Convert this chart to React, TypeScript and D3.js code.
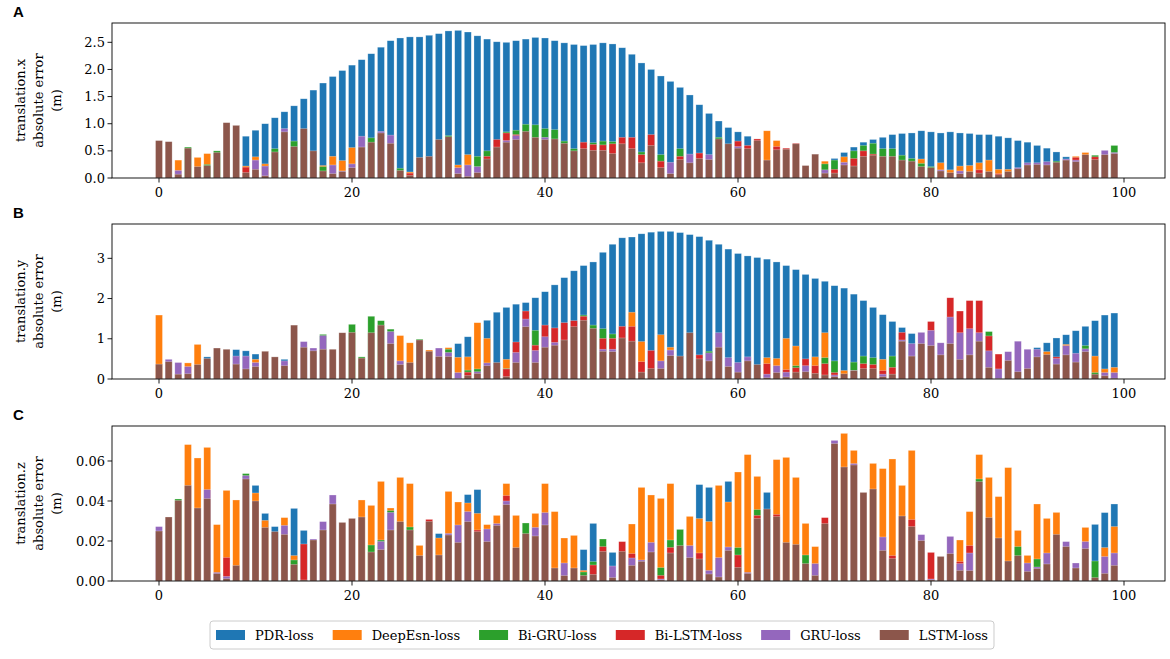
import React from 'react';
import * as d3 from 'd3';

// null = bar fully hidden behind the bars drawn after it
const _ = null;
type V = number | null;

const seriesNames = ['PDR-loss', 'DeepEsn-loss', 'Bi-GRU-loss', 'Bi-LSTM-loss', 'GRU-loss', 'LSTM-loss'];
const seriesColors = ['#1f77b4', '#ff7f0e', '#2ca02c', '#d62728', '#9467bd', '#8c564b'];
const xTicks = [0, 20, 40, 60, 80, 100];
const yTicksA = [0, 0.5, 1, 1.5, 2, 2.5];
const yTicksB = [0, 1, 2, 3];
const yTicksC = [0, 0.02, 0.04, 0.06];

// ---- translation.x ----
const pdrA: V[] = [
  _, _, _, _, _, _, _, _, _, 0.77,
  0.88, 1.0, 1.11, 1.22, 1.33, 1.46, 1.62, 1.75, 1.87, 1.98,
  2.08, 2.18, 2.29, 2.41, 2.53, 2.58, 2.6, 2.6, 2.63, 2.66,
  2.71, 2.72, 2.69, 2.62, 2.56, 2.51, 2.5, 2.53, 2.56, 2.59,
  2.58, 2.53, 2.49, 2.46, 2.44, 2.46, 2.49, 2.47, 2.4, 2.28,
  2.12, 2.0, 1.88, 1.78, 1.67, 1.53, 1.35, 1.19, 1.05, 0.93,
  0.85, 0.77, _, _, _, _, _, _, _, _,
  0.36, 0.47, 0.57, 0.66, 0.71, 0.75, 0.8, 0.82, 0.83, 0.87,
  0.85, 0.83, 0.85, 0.83, 0.82, 0.8, 0.8, 0.77, 0.74, 0.69,
  0.66, 0.6, 0.55, 0.48, 0.39, _, _, _, _, _,
];
const deepA: V[] = [
  _, _, 0.33, _, 0.38, 0.45, _, _, _, 0.22,
  0.39, 0.26, _, _, _, _, _, 0.23, 0.4, 0.32,
  0.56, _, _, _, _, _, 0.11, _, _, _,
  _, 0.24, 0.43, _, _, _, _, _, _, _,
  _, _, _, _, _, _, _, _, _, _,
  _, _, _, _, _, _, _, _, _, _,
  _, _, _, 0.87, 0.69, _, _, _, _, 0.31,
  _, 0.39, _, _, _, _, _, _, _, 0.35,
  _, 0.28, 0.15, 0.22, 0.23, 0.28, 0.33, 0.16, 0.16, _,
  _, _, _, _, _, 0.4, 0.47, _, _, _,
];
const bigruA: V[] = [
  _, _, _, 0.57, _, 0.25, 0.5, _, _, _,
  _, _, 0.54, _, 0.68, _, _, 0.21, _, _,
  _, _, 0.74, _, _, 0.18, _, _, _, _,
  0.78, _, _, 0.4, 0.5, _, 0.85, 0.88, 0.99, 0.98,
  0.91, 0.89, 0.68, 0.54, _, 0.65, 0.68, 0.67, _, _,
  0.48, _, 0.43, _, 0.54, _, _, _, 0.75, _,
  _, _, _, _, _, _, _, _, _, 0.26,
  0.33, _, 0.5, 0.6, 0.64, 0.54, 0.54, 0.42, 0.36, 0.27,
  0.21, _, _, _, _, _, _, _, _, _,
  _, _, _, 0.31, _, _, _, 0.42, _, 0.6,
];
const bilstmA: V[] = [
  _, _, _, _, _, _, _, _, _, 0.2,
  _, _, _, _, _, _, _, _, _, _,
  _, _, _, _, _, _, 0.09, _, _, _,
  _, _, _, _, 0.4, 0.71, 0.83, 0.8, _, _,
  _, _, _, _, 0.66, 0.62, 0.61, 0.63, 0.75, 0.75,
  0.43, 0.8, 0.31, _, 0.4, _, 0.46, _, _, _,
  0.68, 0.6, 0.72, _, 0.58, 0.55, 0.64, _, _, _,
  0.16, _, 0.36, 0.5, 0.44, _, _, _, _, _,
  _, _, _, _, _, 0.15, _, 0.08, _, _,
  _, _, _, _, _, 0.38, _, 0.39, _, _,
];
const gruA: V[] = [
  _, _, 0.14, _, _, _, _, _, _, _,
  0.33, 0.22, _, 0.91, _, _, _, _, 0.24, 0.13,
  0.26, 0.77, _, 0.86, 0.79, _, _, _, _, _,
  _, 0.19, 0.24, 0.21, _, _, 0.69, 0.78, _, _,
  0.75, _, _, _, _, _, _, _, _, _,
  _, _, _, 0.29, _, 0.44, _, 0.43, _, _,
  0.58, _, _, _, _, _, _, _, _, 0.15,
  _, 0.29, _, _, _, _, _, _, _, _,
  _, 0.15, _, 0.13, _, _, _, _, _, 0.19,
  0.28, 0.28, 0.3, _, 0.35, 0.33, _, _, 0.51, 0.47,
];
const lstmA: V[] = [
  0.69, 0.67, 0.07, 0.55, 0.21, 0.23, 0.47, 1.02, 0.97, 0.1,
  0.16, 0.04, 0.48, 0.85, 0.58, 0.91, 0.5, 0.13, 0.08, 0.12,
  0.19, 0.57, 0.66, 0.83, 0.64, 0.14, 0.05, 0.38, 0.4, 0.71,
  0.76, 0.08, 0.03, 0.1, 0.35, 0.57, 0.66, 0.71, 0.86, 0.75,
  0.71, 0.72, 0.64, 0.5, 0.54, 0.51, 0.51, 0.45, 0.63, 0.54,
  0.28, 0.6, 0.19, 0.08, 0.34, 0.28, 0.36, 0.34, 0.72, 0.63,
  0.55, 0.54, 0.69, 0.33, 0.52, 0.53, 0.63, 0.23, 0.44, 0.09,
  0.09, 0.24, 0.22, 0.4, 0.42, 0.4, 0.4, 0.33, 0.31, 0.21,
  0.19, 0.13, 0.1, 0.08, 0.12, 0.09, 0.12, 0.06, 0.12, 0.17,
  0.24, 0.25, 0.24, 0.29, 0.33, 0.3, 0.43, 0.34, 0.43, 0.45,
];

// ---- translation.y ----
const pdrB: V[] = [
  _, _, _, _, _, 0.55, _, _, 0.73, 0.7,
  0.62, _, _, 0.49, _, _, _, _, _, _,
  _, _, _, _, _, _, _, _, _, _,
  _, 0.88, 1.05, _, 1.46, 1.66, 1.78, 1.86, 1.9, 2.02,
  2.17, 2.34, 2.52, 2.69, 2.82, 2.91, 3.15, 3.35, 3.51, 3.53,
  3.61, 3.65, 3.67, 3.67, 3.64, 3.59, 3.54, 3.45, 3.35, 3.23,
  3.12, 3.06, 3.02, 2.98, 2.91, 2.82, 2.72, 2.6, 2.5, 2.43,
  2.32, 2.26, 2.11, 1.95, 1.78, 1.6, 1.43, 1.28, 1.13, _,
  _, _, _, _, _, _, _, _, _, _,
  _, 0.78, 0.9, 1.02, 1.1, 1.2, 1.31, 1.45, 1.59, 1.64,
];
const deepB: V[] = [
  1.59, _, _, 0.4, 0.86, _, _, _, _, _,
  0.49, _, _, _, _, _, _, _, _, _,
  _, _, _, _, _, 1.08, 0.9, _, 0.72, _,
  0.78, 0.54, 0.55, 1.4, 1.01, _, 0.49, _, _, _,
  _, _, _, _, _, _, _, _, _, 1.66,
  0.93, _, 1.1, 0.79, _, _, _, _, _, _,
  _, _, _, 0.53, 0.51, 1.01, 0.82, _, 0.55, 1.15,
  _, 0.21, _, _, _, 0.49, _, _, _, _,
  _, _, _, _, _, _, _, _, _, _,
  _, _, 0.68, _, 0.86, _, _, 0.57, 0.25, 0.29,
];
const bigruB: V[] = [
  _, _, _, _, _, _, _, _, _, _,
  _, _, _, _, _, _, _, 1.11, _, _,
  1.36, 0.55, 1.56, 1.45, 1.24, _, _, 0.99, _, _,
  0.74, _, 0.22, 0.25, _, _, 0.26, _, _, 1.21,
  _, _, _, _, 1.59, 1.34, 1.25, 1.12, _, _,
  _, _, _, _, _, _, _, 0.69, _, _,
  _, _, _, _, _, _, 0.33, _, _, 0.53,
  0.45, _, 0.42, 0.57, 0.53, _, 0.57, _, _, _,
  _, _, _, _, _, _, 1.18, _, _, _,
  _, _, _, _, _, _, 0.83, 0.16, _, _,
];
const bilstmB: V[] = [
  _, _, _, _, _, _, _, _, _, _,
  _, _, _, _, _, _, _, _, _, _,
  _, _, _, _, _, _, _, _, _, _,
  _, _, 0.17, _, _, _, 0.25, 0.92, 1.69, 0.84,
  1.34, 1.27, 1.4, 1.45, 1.56, _, 1.01, 1.01, 1.31, 1.31,
  0.43, 0.71, _, _, _, _, 0.6, _, _, _,
  _, _, _, 0.38, _, 0.23, 0.28, 0.5, 0.33, 0.38,
  0.16, _, _, 0.38, 0.36, 0.21, 0.29, 1.16, _, _,
  1.43, _, 2.02, 1.69, 1.95, 1.95, 1.07, 0.62, _, _,
  _, _, _, 0.55, _, _, _, _, _, _,
];
const gruB: V[] = [
  _, 0.49, 0.41, 0.31, _, _, _, _, 0.57, 0.57,
  0.41, _, _, 0.45, _, 0.93, 0.77, 1.08, _, _,
  _, _, _, _, 1.18, 0.45, _, _, _, 0.77,
  0.66, 0.16, _, 0.18, 0.4, _, _, 0.66, 1.49, 0.71,
  1.05, 0.91, _, _, _, _, 0.74, 0.74, _, _,
  _, _, 0.45, 0.72, _, _, _, 0.65, 1.15, 0.53,
  0.41, 0.55, _, 0.12, 0.33, 0.17, _, 0.33, _, _,
  0.1, _, 0.21, _, _, 0.12, _, 0.97, 0.88, 1.16,
  1.21, 0.9, 1.54, 1.15, 1.25, 1.15, 0.7, 0.25, 0.68, 0.94,
  0.74, 0.74, _, 0.51, 0.83, 0.64, 0.75, _, 0.16, 0.16,
];
const lstmB: V[] = [
  0.37, 0.43, 0.12, 0.13, 0.36, 0.51, 0.77, 0.74, 0.37, 0.25,
  0.31, 0.69, 0.55, 0.33, 1.34, 0.79, 0.7, 0.74, 0.74, 1.15,
  1.16, 0.52, 1.15, 1.34, 0.88, 0.36, 0.41, 0.97, 0.69, 0.56,
  0.56, 0.01, 0.09, 0.14, 0.33, 0.41, 0.06, 0.41, 1.3, 0.41,
  0.79, 0.84, 0.97, 1.3, 1.46, 1.26, 0.69, 0.68, 1.02, 0.94,
  0.17, 0.26, 0.26, 0.58, 0.57, 1.15, 0.5, 0.45, 0.79, 0.31,
  0.17, 0.45, 0.36, 0.03, 0.16, 0.05, 0.17, 0.18, 0.14, 0.1,
  0.06, 0.13, 0.21, 0.26, 0.26, 0.06, 0.12, 0.94, 0.57, 0.88,
  0.83, 0.6, 0.88, 0.49, 0.6, 0.94, 0.29, 0.01, 0.46, 0.18,
  0.26, 0.55, 0.61, 0.37, 0.6, 0.42, 0.68, 0.12, 0.08, 0.02,
];

// ---- translation.z ----
const pdrC: V[] = [
  _, _, _, _, _, _, _, _, _, _,
  0.0478, 0.0338, 0.0272, _, 0.0363, 0.0253, _, _, _, _,
  _, _, _, _, _, _, _, _, _, 0.0237,
  _, _, 0.0432, 0.0457, _, _, _, _, _, _,
  _, _, _, _, 0.0157, 0.0288, _, 0.0143, _, _,
  _, _, _, _, _, _, 0.0482, 0.0468, _, 0.0498,
  _, _, _, 0.0443, _, _, _, _, _, _,
  _, _, _, _, _, _, _, _, _, _,
  _, _, _, _, _, _, _, _, _, _,
  _, _, _, _, _, _, _, 0.0283, 0.0342, 0.0385,
];
const deepC: V[] = [
  _, _, _, 0.0682, 0.0615, 0.0668, 0.0282, 0.0453, 0.0405, _,
  0.044, 0.0303, _, 0.0317, 0.0127, _, _, _, _, _,
  _, 0.0405, 0.0378, 0.0498, 0.0365, 0.0518, 0.0487, 0.0178, _, 0.0215,
  0.0448, 0.0395, 0.039, 0.0338, 0.0282, 0.0328, 0.0487, 0.0328, _, 0.0338,
  0.0487, 0.0347, 0.0215, 0.0228, 0.0053, _, _, _, _, 0.0285,
  0.0468, 0.043, 0.0413, 0.0487, _, 0.0323, 0.0312, 0.0297, 0.0478, 0.0395,
  0.0545, 0.0632, 0.0523, _, 0.0607, 0.0618, 0.0518, 0.0288, 0.0172, _,
  _, 0.0738, 0.0653, _, 0.0588, 0.0562, 0.061, 0.0478, 0.0653, _,
  _, _, _, 0.0205, 0.0347, 0.0632, 0.0518, 0.0422, 0.0567, 0.0253,
  0.0128, 0.0385, 0.0313, 0.0343, _, _, 0.0268, _, 0.0167, 0.0272,
];
const bigruC: V[] = [
  _, _, 0.041, _, _, _, _, _, _, 0.0537,
  _, _, _, _, 0.0105, _, _, _, _, _,
  _, _, 0.018, 0.0205, 0.0352, _, 0.027, _, _, _,
  _, _, _, _, _, _, _, _, 0.029, _,
  _, _, _, _, 0.0045, 0.0097, 0.021, _, _, _,
  _, _, 0.0067, 0.0205, 0.0258, _, _, _, _, _,
  0.0167, _, 0.0357, _, _, _, _, 0.013, _, _,
  _, _, _, _, _, _, _, _, _, _,
  _, _, _, _, _, 0.051, _, _, _, 0.0172,
  _, 0.011, _, _, _, _, _, 0.01, _, _,
];
const bilstmC: V[] = [
  _, _, _, _, _, _, _, 0.0118, _, _,
  _, _, _, _, _, 0.0185, _, _, _, _,
  _, _, _, _, _, _, _, _, 0.0308, _,
  _, _, _, 0.0255, _, _, 0.0427, _, _, _,
  _, _, _, _, _, 0.008, 0.0172, _, 0.0197, 0.0137,
  _, _, 0.0028, 0.0168, _, _, 0.014, _, _, _,
  0.013, _, 0.0328, _, 0.0333, _, _, _, _, 0.0317,
  _, _, _, _, _, _, 0.0127, _, 0.0307, _,
  0.0143, _, _, 0.0097, 0.0177, _, _, _, _, _,
  _, _, _, _, _, _, _, _, _, _,
];
const gruC: V[] = [
  0.0272, _, _, _, _, 0.0457, 0.0043, 0.0023, _, 0.0527,
  _, _, _, 0.0278, _, _, 0.021, 0.0297, 0.043, _,
  _, _, _, 0.0198, 0.0343, _, _, _, _, _,
  0.0238, 0.028, 0.0347, _, 0.026, 0.0287, 0.04, _, _, 0.0268,
  0.0342, _, 0.009, _, _, _, _, 0.0075, _, 0.0115,
  0.0105, 0.0193, 0.001, _, _, 0.0177, _, 0.0053, 0.0117, 0.017,
  _, 0.0043, _, _, _, _, _, _, 0.0087, _,
  0.0703, _, 0.0587, _, _, 0.022, _, _, _, 0.0232,
  0.001, _, 0.0223, 0.0087, 0.014, _, _, _, _, _,
  0.009, 0.007, 0.014, _, 0.0197, 0.009, 0.0197, _, 0.0122, 0.014,
];
const lstmC: V[] = [
  0.025, 0.032, 0.0403, 0.0478, 0.0365, 0.0412, 0.0037, 0.0012, 0.0078, 0.051,
  0.04, 0.0268, 0.0247, 0.0233, 0.0083, 0.0005, 0.0205, 0.0255, 0.0385, 0.0293,
  0.0313, 0.032, 0.0145, 0.0157, 0.0255, 0.0297, 0.0255, 0.0127, 0.0298, 0.013,
  0.023, 0.0193, 0.0297, 0.0247, 0.0197, 0.0278, 0.0382, 0.0167, 0.0237, 0.0225,
  0.028, 0.0065, 0.0027, 0.0065, 0.0028, 0.0033, 0.0148, 0.0017, 0.0148, 0.0078,
  0.0098, 0.0145, 0.0005, 0.014, 0.0177, 0.0117, 0.011, 0.0035, 0.002, 0.0153,
  0.0068, 0.0038, 0.0313, 0.036, 0.0322, 0.0193, 0.0183, 0.0087, 0.0028, 0.0287,
  0.0687, 0.057, 0.058, 0.0443, 0.046, 0.0153, 0.0112, 0.0325, 0.0272, 0.0202,
  0.0005, 0.0123, 0.0137, 0.0053, 0.0052, 0.0497, 0.0317, 0.0215, 0.01, 0.0127,
  0.0048, 0.0062, 0.0085, 0.0233, 0.0172, 0.0065, 0.0162, 0.0017, 0.0038, 0.0078,
];

const FONT = 'DejaVu Serif';
const FONT_SIZE = 13;
const plotLeft = 112;
const plotRight = 1165;
const panelH = 155;
const x = d3.scaleLinear().domain([0, 100]).range([159, 1124]);
const barW = x(0.72) - x(0);

// measure legend label widths so the entries never overlap
const ctx = document.createElement('canvas').getContext('2d');
const textWidth = (s: string) => {
  if (!ctx) return s.length * 7.5;
  ctx.font = `${FONT_SIZE}px "${FONT}"`;
  return ctx.measureText(s).width;
};

interface PanelProps {
  letter: string;
  top: number;
  label: string;
  series: V[][];
  ticks: number[];
  fmt: string;
}

const Panel: React.FC<PanelProps> = ({ letter, top, label, series, ticks, fmt }) => {
  const bottom = top + panelH;
  const yMax = (d3.max(series.flat().filter((v): v is number => v != null)) ?? 1) * 1.05;
  const y = d3.scaleLinear().domain([0, yMax]).range([bottom, top]);
  const f = d3.format(fmt);
  const midY = (top + bottom) / 2;
  return (
    <g>
      {series.map((vals, s) => (
        <g key={s} fill={seriesColors[s]}>
          {vals.map((v, i) =>
            v == null ? null : (
              <rect
                key={i}
                x={x(i) - barW / 2}
                y={y(v)}
                width={barW}
                height={bottom - y(v)}
                stroke="#fff"
                strokeOpacity={0.45}
                strokeWidth={0.6}
              />
            )
          )}
        </g>
      ))}
      <rect x={plotLeft} y={top} width={plotRight - plotLeft} height={panelH} fill="none" stroke="#000" strokeWidth={0.9} />
      {ticks.map((t) => (
        <g key={t}>
          <line x1={plotLeft - 4.5} x2={plotLeft} y1={y(t)} y2={y(t)} stroke="#000" strokeWidth={0.9} />
          <text x={plotLeft - 7} y={y(t)} dy="0.35em" textAnchor="end" fontSize={FONT_SIZE} fontFamily={FONT}>
            {f(t)}
          </text>
        </g>
      ))}
      {xTicks.map((t) => (
        <g key={t}>
          <line x1={x(t)} x2={x(t)} y1={bottom} y2={bottom + 4.5} stroke="#000" strokeWidth={0.9} />
          <text x={x(t)} y={bottom + 19} textAnchor="middle" fontSize={FONT_SIZE} fontFamily={FONT}>
            {t}
          </text>
        </g>
      ))}
      {[label, 'absolute error', '(m)'].map((line, k) => (
        <text
          key={k}
          transform={`translate(${25 + k * 18},${midY}) rotate(-90)`}
          textAnchor="middle"
          fontSize={FONT_SIZE}
          fontFamily={FONT}
        >
          {line}
        </text>
      ))}
      <text x={13} y={top - 6} fontSize={15} fontWeight="bold" fontFamily="Liberation Sans, Arial, sans-serif">
        {letter}
      </text>
    </g>
  );
};

const App: React.FC = () => {
  const legendLeft = 210;
  const pad = 6;
  const patchW = 29;
  const gap = 10;
  const spacing = 19;
  let cursor = legendLeft + pad;
  const items = seriesNames.map((name, i) => {
    const px = cursor;
    const w = textWidth(name);
    cursor += patchW + gap + w + spacing;
    return { name, color: seriesColors[i], px, tx: px + patchW + gap };
  });
  const legendRight = cursor - spacing + pad;

  return (
    <svg
      width={1170}
      height={659}
      viewBox="0 0 1170 659"
      style={{ position: 'absolute', left: 0, top: 0, display: 'block', background: '#fff' }}
    >
      <Panel letter="A" top={23} label="translation.x" series={[pdrA, deepA, bigruA, bilstmA, gruA, lstmA]} ticks={yTicksA} fmt=".1f" />
      <Panel letter="B" top={224} label="translation.y" series={[pdrB, deepB, bigruB, bilstmB, gruB, lstmB]} ticks={yTicksB} fmt="d" />
      <Panel letter="C" top={426} label="translation.z" series={[pdrC, deepC, bigruC, bilstmC, gruC, lstmC]} ticks={yTicksC} fmt=".2f" />
      <rect x={legendLeft} y={621} width={legendRight - legendLeft} height={28} rx={3} fill="#fff" stroke="#ccc" strokeWidth={1} />
      {items.map((it) => (
        <g key={it.name}>
          <rect x={it.px} y={630} width={patchW} height={10} fill={it.color} />
          <text x={it.tx} y={640} fontSize={FONT_SIZE} fontFamily={FONT}>
            {it.name}
          </text>
        </g>
      ))}
    </svg>
  );
};

export default App;
